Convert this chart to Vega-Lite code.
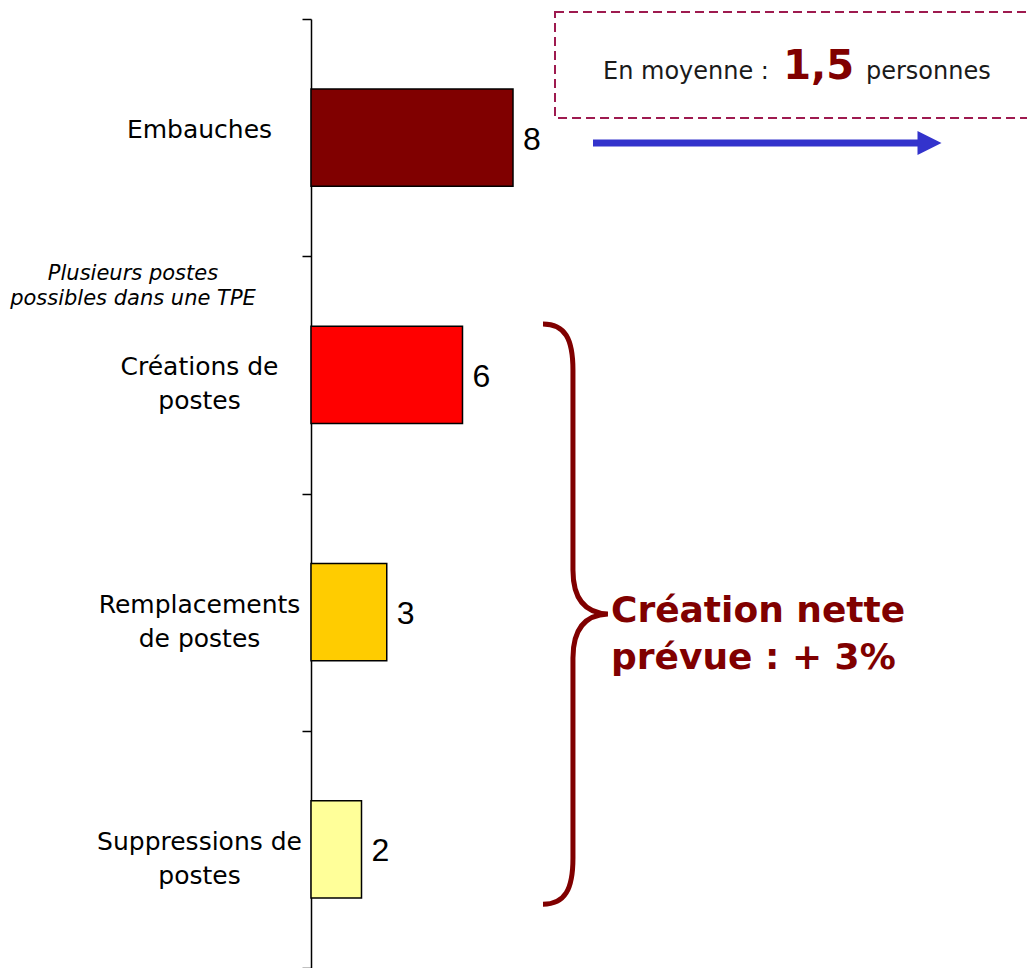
{
  "$schema": "https://vega.github.io/schema/vega-lite/v6.json",
  "width": 716,
  "height": 949,
  "autosize": "none",
  "padding": {"left": 311, "top": 19, "right": 0, "bottom": 0},
  "background": "white",
  "config": {"view": {"stroke": null}},
  "layer": [
    {
      "data": {"values": [
        {"poste": "Embauches", "n": 8},
        {"poste": "Créations de\npostes", "n": 6},
        {"poste": "Remplacements\nde postes", "n": 3},
        {"poste": "Suppressions de\npostes", "n": 2}
      ]},
      "encoding": {
        "y": {
          "field": "poste", "type": "nominal", "sort": null,
          "scale": {"domain": ["Embauches", "Créations de\npostes", "Remplacements\nde postes", "Suppressions de\npostes"], "paddingInner": 0, "paddingOuter": 0},
          "axis": {
            "title": null,
            "domainColor": "black", "domainWidth": 1.5,
            "tickColor": "black", "tickWidth": 1.5, "tickSize": 9, "tickBand": "extent",
            "labelFont": "DejaVu Sans", "labelFontSize": 25, "labelColor": "black",
            "labelAlign": "center", "labelBaseline": "middle", "labelLineHeight": 34,
            "labelLimit": 400, "labelPadding": 103, "labelOffset": -8,
            "labelExpr": "split(datum.label, '\\n')"
          }
        },
        "x": {"field": "n", "type": "quantitative", "scale": {"domain": [0, 28.356], "nice": false}, "axis": null}
      },
      "layer": [
        {
          "mark": {"type": "bar", "height": {"band": 0.41}, "stroke": "black", "strokeWidth": 1.5},
          "encoding": {
            "color": {"field": "poste", "type": "nominal", "sort": null, "legend": null,
              "scale": {"range": ["#800000", "#ff0000", "#ffcc00", "#ffff99"]}}
          }
        },
        {
          "mark": {"type": "text", "align": "left", "baseline": "middle", "dx": 10, "dy": 2, "font": "Liberation Sans", "fontSize": 32, "color": "black"},
          "encoding": {"text": {"field": "n", "type": "quantitative"}}
        }
      ]
    },
    {
      "data": {"values": [{}]},
      "mark": {"type": "point", "shape": "M-1,-0.2186L1,-0.2186L1,0.2186L-1,0.2186Z", "size": 235225, "filled": false, "stroke": "#9e1a4f", "strokeWidth": 2, "strokeDash": [9, 5], "opacity": 1},
      "encoding": {
        "x": {"datum": 19.267, "type": "quantitative", "scale": {"domain": [0, 28.356], "nice": false}, "axis": null},
        "y": {"datum": "Embauches", "type": "nominal", "bandPosition": 0.1939, "scale": {"domain": ["Embauches", "Créations de\npostes", "Remplacements\nde postes", "Suppressions de\npostes"], "paddingInner": 0, "paddingOuter": 0}}
      }
    },
    {
      "data": {"values": [{"t": "En moyenne :"}]},
      "mark": {"type": "text", "align": "left", "baseline": "alphabetic", "font": "DejaVu Sans", "fontSize": 24, "color": "#1a1a1a"},
      "encoding": {
        "x": {"datum": 11.564, "type": "quantitative", "scale": {"domain": [0, 28.356], "nice": false}, "axis": null},
        "y": {"datum": "Embauches", "type": "nominal", "bandPosition": 0.2529, "scale": {"domain": ["Embauches", "Créations de\npostes", "Remplacements\nde postes", "Suppressions de\npostes"], "paddingInner": 0, "paddingOuter": 0}},
        "text": {"field": "t"}
      }
    },
    {
      "data": {"values": [{"t": "1,5"}]},
      "mark": {"type": "text", "align": "left", "baseline": "alphabetic", "font": "DejaVu Sans", "fontWeight": "bold", "fontSize": 40, "color": "#800000"},
      "encoding": {
        "x": {"datum": 18.7, "type": "quantitative", "scale": {"domain": [0, 28.356], "nice": false}, "axis": null},
        "y": {"datum": "Embauches", "type": "nominal", "bandPosition": 0.2529, "scale": {"domain": ["Embauches", "Créations de\npostes", "Remplacements\nde postes", "Suppressions de\npostes"], "paddingInner": 0, "paddingOuter": 0}},
        "text": {"field": "t"}
      }
    },
    {
      "data": {"values": [{"t": "personnes"}]},
      "mark": {"type": "text", "align": "left", "baseline": "alphabetic", "font": "DejaVu Sans", "fontSize": 24, "color": "#1a1a1a"},
      "encoding": {
        "x": {"datum": 21.98, "type": "quantitative", "scale": {"domain": [0, 28.356], "nice": false}, "axis": null},
        "y": {"datum": "Embauches", "type": "nominal", "bandPosition": 0.2529, "scale": {"domain": ["Embauches", "Créations de\npostes", "Remplacements\nde postes", "Suppressions de\npostes"], "paddingInner": 0, "paddingOuter": 0}},
        "text": {"field": "t"}
      }
    },
    {
      "data": {"values": [{}]},
      "mark": {"type": "rule", "stroke": "#3333cc", "strokeWidth": 7},
      "encoding": {
        "x": {"datum": 11.168, "type": "quantitative", "scale": {"domain": [0, 28.356], "nice": false}, "axis": null},
        "x2": {"datum": 24.2},
        "y": {"datum": "Embauches", "type": "nominal", "bandPosition": 0.5227, "scale": {"domain": ["Embauches", "Créations de\npostes", "Remplacements\nde postes", "Suppressions de\npostes"], "paddingInner": 0, "paddingOuter": 0}}
      }
    },
    {
      "data": {"values": [{}]},
      "mark": {"type": "point", "shape": "M-1,-1L1,0L-1,1Z", "size": 576, "filled": true, "color": "#3333cc", "opacity": 1},
      "encoding": {
        "x": {"datum": 24.495, "type": "quantitative", "scale": {"domain": [0, 28.356], "nice": false}, "axis": null},
        "y": {"datum": "Embauches", "type": "nominal", "bandPosition": 0.5227, "scale": {"domain": ["Embauches", "Créations de\npostes", "Remplacements\nde postes", "Suppressions de\npostes"], "paddingInner": 0, "paddingOuter": 0}}
      }
    },
    {
      "data": {"values": [{}]},
      "mark": {"type": "point", "shape": "M-0.110,-0.997C-0.034,-0.997,-0.007,-0.945,-0.007,-0.838L-0.007,-0.151C-0.007,-0.052,0.034,-0.003,0.113,0C0.034,0.003,-0.007,0.052,-0.007,0.151L-0.007,0.838C-0.007,0.945,-0.034,0.997,-0.110,0.997", "size": 338724, "filled": false, "stroke": "#800000", "strokeWidth": 5, "opacity": 1},
      "encoding": {
        "x": {"datum": 10.455, "type": "quantitative", "scale": {"domain": [0, 28.356], "nice": false}, "axis": null},
        "y": {"datum": "Remplacements\nde postes", "type": "nominal", "bandPosition": 0.508, "scale": {"domain": ["Embauches", "Créations de\npostes", "Remplacements\nde postes", "Suppressions de\npostes"], "paddingInner": 0, "paddingOuter": 0}}
      }
    },
    {
      "data": {"values": [{"t": "Création nette\nprévue : + 3%"}]},
      "mark": {"type": "text", "align": "left", "baseline": "alphabetic", "lineBreak": "\n", "lineHeight": 47, "font": "DejaVu Sans", "fontWeight": "bold", "fontSize": 36, "color": "#800000"},
      "encoding": {
        "x": {"datum": 11.88, "type": "quantitative", "scale": {"domain": [0, 28.356], "nice": false}, "axis": null},
        "y": {"datum": "Remplacements\nde postes", "type": "nominal", "bandPosition": 0.5416, "scale": {"domain": ["Embauches", "Créations de\npostes", "Remplacements\nde postes", "Suppressions de\npostes"], "paddingInner": 0, "paddingOuter": 0}},
        "text": {"field": "t"}
      }
    },
    {
      "data": {"values": [{"t": "Plusieurs postes\npossibles dans une TPE"}]},
      "mark": {"type": "text", "align": "center", "baseline": "alphabetic", "lineBreak": "\n", "lineHeight": 25, "font": "DejaVu Sans", "fontStyle": "italic", "fontSize": 21, "color": "black"},
      "encoding": {
        "x": {"datum": -7.05, "type": "quantitative", "scale": {"domain": [0, 28.356], "nice": false}, "axis": null},
        "y": {"datum": "Créations de\npostes", "type": "nominal", "bandPosition": 0.1, "scale": {"domain": ["Embauches", "Créations de\npostes", "Remplacements\nde postes", "Suppressions de\npostes"], "paddingInner": 0, "paddingOuter": 0}},
        "text": {"field": "t"}
      }
    }
  ]
}
